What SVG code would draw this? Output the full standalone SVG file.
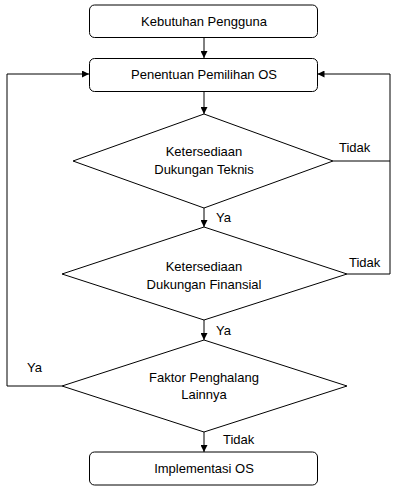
<svg xmlns="http://www.w3.org/2000/svg" width="400" height="494" viewBox="0 0 400 494">
<style>
.box{fill:#fff;stroke:#000;stroke-width:1}
.dia{fill:#fff;stroke:#000;stroke-width:1}
.c{fill:none;stroke:#000;stroke-width:1}
text{font-family:"Liberation Sans",Arial,sans-serif;font-size:13px;fill:#000}
.m{text-anchor:middle}
</style>
<defs>
<marker id="ah" viewBox="0 0 10 10" refX="10" refY="5" markerWidth="7" markerHeight="7" markerUnits="userSpaceOnUse" orient="auto">
<path d="M0,0 L10,5 L0,10 z" fill="#000"/>
</marker>
</defs>
<rect width="400" height="494" fill="#fff"/>
<g id="connectors">
<path class="c" d="M204,37.5 V58" marker-end="url(#ah)"/>
<path class="c" d="M204,91.5 V114" marker-end="url(#ah)"/>
<path class="c" d="M204,208 V227" marker-end="url(#ah)"/>
<path class="c" d="M204,320 V340" marker-end="url(#ah)"/>
<path class="c" d="M204,432 V452" marker-end="url(#ah)"/>
<path class="c" d="M333,161 H390 V74 H317.5" marker-end="url(#ah)"/>
<path class="c" d="M347,274 H390 V161"/>
<path class="c" d="M62,386 H7 V74 H89" marker-end="url(#ah)"/>
<text x="216" y="222">Ya</text>
<text x="216" y="335">Ya</text>
<text x="339" y="152">Tidak</text>
<text x="349" y="267">Tidak</text>
<text x="27" y="372">Ya</text>
<text x="223" y="444">Tidak</text>
</g>
<g id="n1">
<rect class="box" x="89.5" y="5" width="228" height="32.5" rx="5"/>
<text class="m" x="204" y="26">Kebutuhan Pengguna</text>
</g>
<g id="n2">
<rect class="box" x="89.5" y="58.5" width="228" height="33" rx="5"/>
<text class="m" x="204" y="79">Penentuan Pemilihan OS</text>
</g>
<g id="d1">
<polygon class="dia" points="204,114 333,161 204,208 73,161"/>
<text class="m" x="204" y="156">Ketersediaan</text>
<text class="m" x="204" y="174">Dukungan Teknis</text>
</g>
<g id="d2">
<polygon class="dia" points="204,227 347,274 204,320 62,274"/>
<text class="m" x="204" y="271">Ketersediaan</text>
<text class="m" x="204" y="289">Dukungan Finansial</text>
</g>
<g id="d3">
<polygon class="dia" points="204,340 347,386 204,432 62,386"/>
<text class="m" x="204" y="382">Faktor Penghalang</text>
<text class="m" x="204" y="399">Lainnya</text>
</g>
<g id="n4">
<rect class="box" x="89.5" y="452" width="228" height="33" rx="5"/>
<text class="m" x="204" y="473">Implementasi OS</text>
</g>
</svg>
